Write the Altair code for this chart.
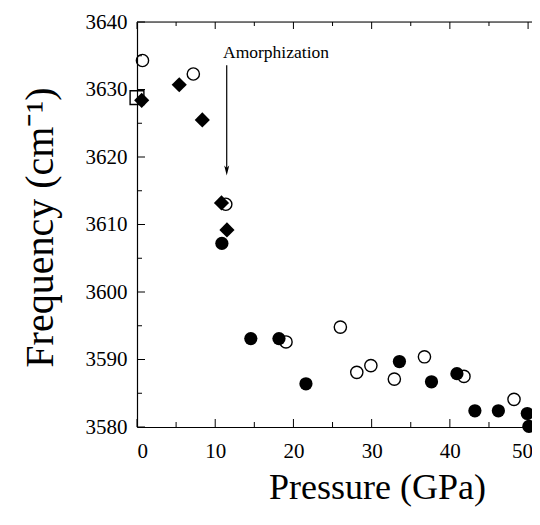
import altair as alt
import pandas as pd

# ---- data ----
sq_p = [0.0]
sq_f = [3628.8]

dia_p = [0.6, 5.4, 8.35, 10.8, 11.5]
dia_f = [3628.4, 3630.7, 3625.5, 3613.2, 3609.2]

open_p = [0.7, 7.2, 11.35, 19.05, 26.0, 28.1, 29.9, 32.9, 36.75, 41.8, 48.2]
open_f = [3634.3, 3632.3, 3613.0, 3592.6, 3594.8, 3588.1, 3589.1, 3587.1, 3590.4, 3587.5, 3584.1]

fill_p = [10.85, 14.55, 18.15, 21.6, 33.55, 37.65, 40.9, 43.2, 46.2, 49.9, 50.1]
fill_f = [3607.2, 3593.1, 3593.1, 3586.4, 3589.7, 3586.7, 3587.9, 3582.4, 3582.4, 3582.0, 3580.1]

x_major = [0, 10, 20, 30, 40, 50]
x_minor = [5, 15, 25, 35, 45]
y_major = [3580, 3590, 3600, 3610, 3620, 3630, 3640]
y_minor = [3585, 3595, 3605, 3615, 3625, 3635]

note_text = ["Amorphization"]
note_p = [11.0]
note_f = [3634.7]
arrow_p = [11.47]
arrow_top = [3633.6]
arrow_end = [3618.0]

FONT = "Liberation Serif"
W, H = 395, 405
XDOM = [0, 50.5]
YDOM = [3580, 3640]

xs = alt.Scale(domain=XDOM, nice=False, zero=False)
ys = alt.Scale(domain=YDOM, nice=False, zero=False)

xaxis = alt.Axis(values=x_major, ticks=False, tickSize=0, grid=False,
                 labelOverlap=False, labelBound=False, labelPadding=13,
                 labelOffset=alt.ConditionalAxisNumber(
                     condition={"test": "datum.value == 50", "value": -6}, value=0),
                 titleFontSize=36, titleX=240, titleY=60,
                 titleBaseline="middle", titleAlign="center")
yaxis = alt.Axis(values=y_major, ticks=False, tickSize=0, grid=False,
                 format="d", labelOverlap=False, labelPadding=10,
                 titleFontSize=40, titleX=-97, titleY=205,
                 titleAngle=-90, titleBaseline="middle",
                 titleAlign="center")

xenc = alt.X("p:Q", scale=xs, title="Pressure (GPa)", axis=xaxis)
yenc = alt.Y("f:Q", scale=ys, title="Frequency (cm⁻¹)", axis=yaxis)


def pts(p, f):
    return pd.DataFrame({"p": p, "f": f})


# inward ticks
def yticks(vals, ln):
    return alt.Chart(pd.DataFrame({"f": vals})).mark_rule(color="black", strokeWidth=1).encode(
        y=yenc, x=alt.value(0), x2=alt.value(ln))


def xticks_bottom(vals, ln):
    return alt.Chart(pd.DataFrame({"p": vals})).mark_rule(color="black", strokeWidth=1).encode(
        x=xenc, y=alt.value(H), y2=alt.value(H - ln))


def xticks_top(vals, ln):
    return alt.Chart(pd.DataFrame({"p": vals})).mark_rule(color="black", strokeWidth=1).encode(
        x=xenc, y=alt.value(0), y2=alt.value(ln))


top_line = alt.Chart(pd.DataFrame({"p": [0]})).mark_rule(color="black", strokeWidth=1.2).encode(
    x=alt.value(0), x2=alt.value(W), y=alt.value(0))

open_c = alt.Chart(pts(open_p, open_f)).mark_point(
    shape="circle", filled=False, color="black", strokeWidth=1.4, size=150, opacity=1
).encode(x=xenc, y=yenc)

fill_c = alt.Chart(pts(fill_p, fill_f)).mark_point(
    shape="circle", filled=True, color="black", size=175, opacity=1
).encode(x=xenc, y=yenc)

dia = alt.Chart(pts(dia_p, dia_f)).mark_point(
    shape="diamond", filled=True, color="black", size=230, opacity=1
).encode(x=xenc, y=yenc)

sq = alt.Chart(pts(sq_p, sq_f)).mark_point(
    shape="square", filled=False, color="black", strokeWidth=1.4, size=190, opacity=1
).encode(x=xenc, y=yenc)

note = alt.Chart(pd.DataFrame({"p": note_p, "f": note_f, "t": note_text})).mark_text(
    font=FONT, fontSize=17.5, align="left", baseline="alphabetic", color="black"
).encode(x=xenc, y=yenc, text="t:N")

arrow_line = alt.Chart(pd.DataFrame({"p": arrow_p, "f": arrow_top, "f2": arrow_end})).mark_rule(
    color="black", strokeWidth=1.2
).encode(x=xenc, y=yenc, y2="f2:Q")

arrow_head = alt.Chart(pd.DataFrame({"p": arrow_p, "f": arrow_end})).mark_point(
    shape="M-0.5,-1L0,1L0.5,-1L0,-0.5Z", filled=True, color="black", size=100, opacity=1
).encode(x=xenc, y=yenc)

chart = alt.layer(
    yticks(y_major, 8), yticks(y_minor, 5),
    xticks_bottom(x_major, 8), xticks_bottom(x_minor, 5),
    xticks_top(x_major, 7), xticks_top(x_minor, 4),
    top_line,
    open_c, fill_c, dia, sq,
    note, arrow_line, arrow_head,
).properties(
    width=W, height=H,
    autosize=alt.AutoSizeParams(type="none"),
    padding={"left": 129, "top": 14, "right": 0, "bottom": 88},
).configure_view(stroke=None).configure(
    background="white", font=FONT
).configure_axis(
    labelFont=FONT, labelFontSize=21, labelColor="black",
    titleFont=FONT, titleFontWeight="normal", titleColor="black",
    domainColor="black", domainWidth=1.2,
)

chart.save("out.html", embed_options={"renderer": "svg", "actions": False})
